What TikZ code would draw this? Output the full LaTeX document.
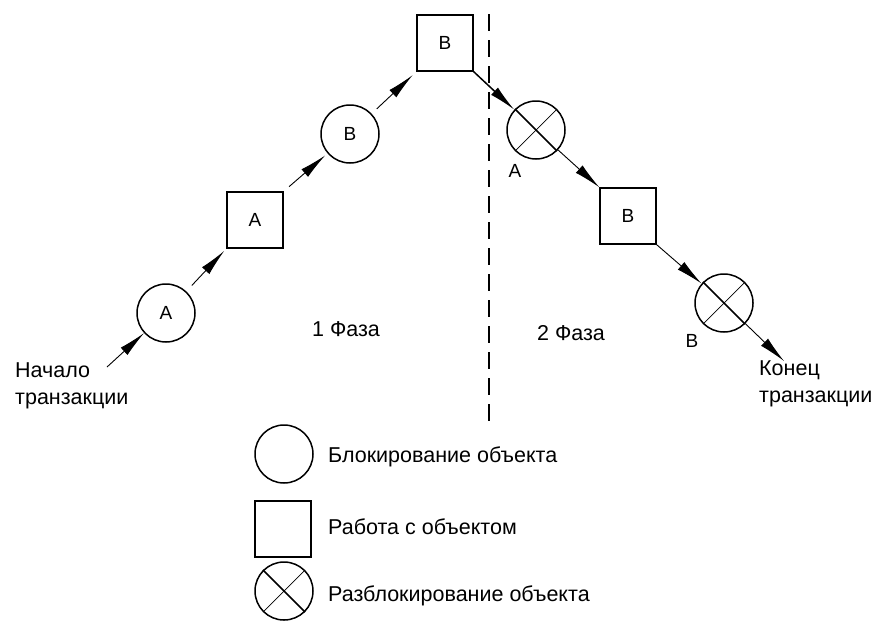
\documentclass[tikz,border=0pt]{standalone}
\usepackage{fontspec}
\setmainfont{Liberation Sans}
\usetikzlibrary{arrows.meta}
\begin{document}
\begin{tikzpicture}[x=1pt,y=-1pt,
  lockc/.style={circle,draw,line width=1.5pt,minimum size=58pt,inner sep=0pt,font=\fontsize{19}{20}\selectfont},
  workb/.style={rectangle,draw,line width=1.5pt,minimum size=56pt,inner sep=0pt,font=\fontsize{19}{20}\selectfont},
  arr/.style={line width=0.9pt,-{Latex[length=27pt,width=10pt]}},
  txt/.style={font=\fontsize{21.5}{27}\selectfont,inner sep=0pt},
  lbl/.style={font=\fontsize{19}{20}\selectfont,inner sep=0pt}]
\useasboundingbox (0,0) rectangle (890,640);
% main chain
\node[lockc] (cA) at (166,313) {A};
\node[workb] (sA) at (255,220) {A};
\node[lockc] (cB) at (350,134) {B};
\node[workb] (sB) at (445,43) {B};
\node[lockc] (uA) at (536,130) {};
\node[workb] (sB2) at (628,216) {B};
\node[lockc] (uB) at (724,303) {};
\draw[line width=1.5pt] (uA.135) -- (uA.-45);
\draw[line width=0.7pt] (uA.45) -- (uA.-135);
\draw[line width=1.5pt] (uB.135) -- (uB.-45);
\draw[line width=0.7pt] (uB.45) -- (uB.-135);
\node[lbl] (lA) at (515,171) {A};
\node[lbl] (lB) at (692,341) {B};
% start / end
\coordinate (st) at (107,367);
\coordinate (en) at (784,361);
\node[txt,anchor=north west,align=left] (tst) at (15,362) {Начало\\транзакции};
\node[txt,anchor=north west,align=left] (ten) at (759,361) {Конец\\транзакции};
% arrows
\draw[arr] (st) -- (cA);
\draw[arr,shorten <=8pt,shorten >=3pt] (cA) -- (sA.south west);
\draw[arr,shorten <=7pt,shorten >=3pt] (sA.north east) -- (cB);
\draw[arr,shorten <=7pt,shorten >=5pt] (cB) -- (sB.south west);
\draw[line width=1.5pt,-{Latex[length=27pt,width=10pt]}] (sB.south east) -- (uA);
\draw[arr] (uA) -- (sB2.north west);
\draw[arr] (sB2.south east) -- (uB);
\draw[arr] (uB) -- (en);
% phase divider
\coordinate (dt) at (489,14);
\coordinate (db) at (489,428);
\draw[line width=1.8pt,dash pattern=on 17pt off 9pt] (dt) -- (db);
\node[txt] (ph1) at (346,329) {1 Фаза};
\node[txt] (ph2) at (571,333) {2 Фаза};
% legend
\node[lockc] (gc) at (284,454) {};
\node[workb] (gs) at (283,529) {};
\node[lockc] (gu) at (284,591) {};
\draw[line width=1.5pt] (gu.135) -- (gu.-45);
\draw[line width=0.7pt] (gu.45) -- (gu.-135);
\node[txt,anchor=west] (tgc) at (328,457) {Блокирование объекта};
\node[txt,anchor=west] (tgs) at (328,527) {Работа с объектом};
\node[txt,anchor=west] (tgu) at (328,596) {Разблокирование объекта};
\end{tikzpicture}
\end{document}
